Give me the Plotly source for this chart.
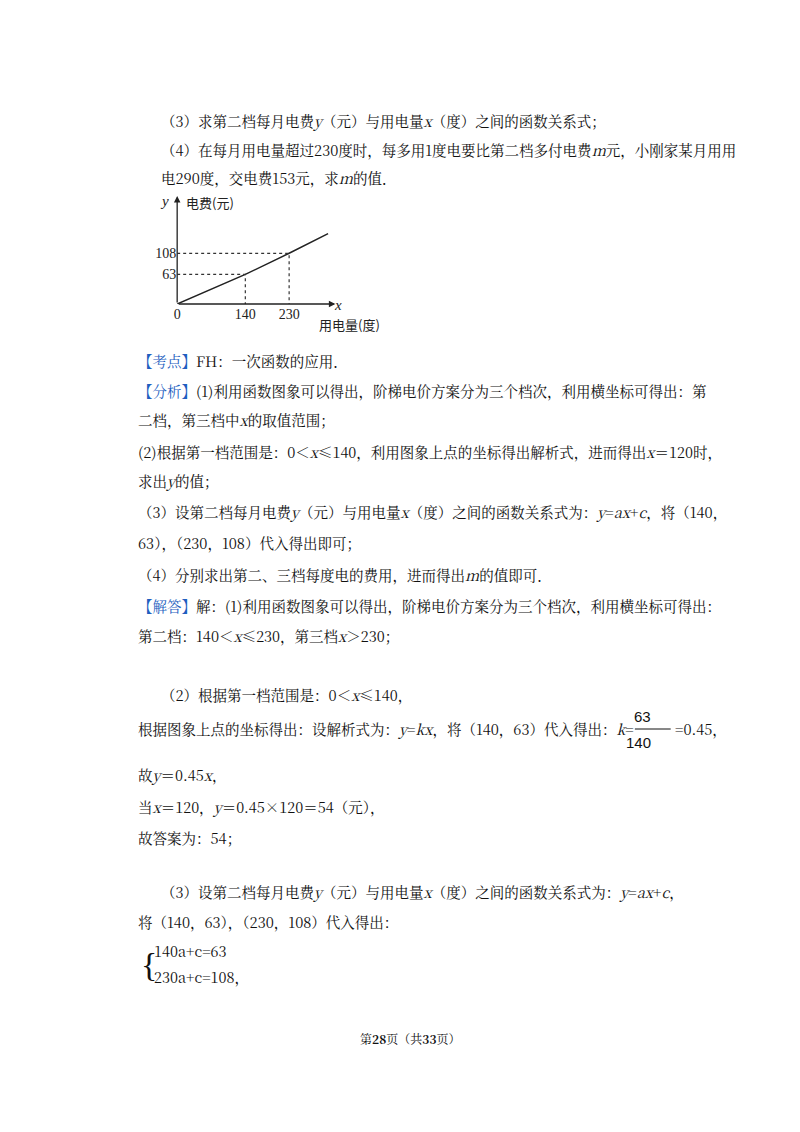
import plotly.graph_objects as go

# chart data
kwh = [0, 140, 230, 310]
fee = [0, 63, 108, 150]
x_ticks = [0, 140, 230]
y_ticks = [63, 108]

W, H = 800, 1132
CN = "Noto Serif CJK SC, Noto Sans CJK SC, Liberation Serif"
FS = 14.5

# text lines: (x px, y px, html)
lines = [
    (148, 112, "（3）求第二档每月电费<i>y</i>（元）与用电量<i>x</i>（度）之间的函数关系式；"),
    (148, 141, "（4）在每月用电量超过230度时，每多用1度电要比第二档多付电费<i>m</i>元，小刚家某月用用"),
    (148, 170, "电290度，交电费153元，求<i>m</i>的值．"),
    (125, 352, "<span style='color:#1f5fbf'>【考点】</span>FH：一次函数的应用．"),
    (125, 383, "<span style='color:#1f5fbf'>【分析】</span>(1)利用函数图象可以得出，阶梯电价方案分为三个档次，利用横坐标可得出：第"),
    (125, 412, "二档，第三档中<i>x</i>的取值范围；"),
    (125, 443, "(2)根据第一档范围是：0＜<i>x</i>≤140，利用图象上点的坐标得出解析式，进而得出<i>x</i>＝120时，"),
    (125, 472, "求出<i>y</i>的值；"),
    (125, 503, "（3）设第二档每月电费<i>y</i>（元）与用电量<i>x</i>（度）之间的函数关系式为：<i>y</i>=<i>ax</i>+<i>c</i>，将（140，"),
    (125, 534, "63），（230，108）代入得出即可；"),
    (125, 566, "（4）分别求出第二、三档每度电的费用，进而得出<i>m</i>的值即可．"),
    (125, 597, "<span style='color:#1f5fbf'>【解答】</span>解：(1)利用函数图象可以得出，阶梯电价方案分为三个档次，利用横坐标可得出："),
    (125, 628, "第二档：140＜<i>x</i>≤230，第三档<i>x</i>＞230；"),
    (148, 686, "（2）根据第一档范围是：0＜<i>x</i>≤140，"),
    (125, 720, "根据图象上点的坐标得出：设解析式为：<i>y</i>=<i>kx</i>，将（140，63）代入得出：<i>k</i>="),
    (125, 766, "故<i>y</i>＝0.45<i>x</i>，"),
    (125, 798, "当<i>x</i>＝120，<i>y</i>＝0.45×120＝54（元），"),
    (125, 829, "故答案为：54；"),
    (148, 883, "（3）设第二档每月电费<i>y</i>（元）与用电量<i>x</i>（度）之间的函数关系式为：<i>y</i>=<i>ax</i>+<i>c</i>，"),
    (125, 913, "将（140，63），（230，108）代入得出："),
    (141, 942, "140a+c=63"),
    (141, 968, "230a+c=108，"),
]

fig = go.Figure()
# main polyline
fig.add_trace(go.Scatter(x=kwh, y=fee, mode="lines", line=dict(color="#222", width=1.5),
                         hoverinfo="skip"))
# dashed guides
for xv, yv in zip(kwh[1:3], fee[1:3]):
    fig.add_trace(go.Scatter(x=[0, xv, xv], y=[yv, yv, 0], mode="lines",
                             line=dict(color="#333", width=1.2, dash="dot"), hoverinfo="skip"))

fig.update_xaxes(domain=[166 / W, 325 / W], range=[0, 325], tickvals=x_ticks,
                 showgrid=False, zeroline=False, showline=False,
                 tickfont=dict(family="Liberation Serif", size=14, color="#222"))
fig.update_yaxes(domain=[1 - 296 / H, 1 - 188 / H], range=[0, 230], tickvals=y_ticks,
                 showgrid=False, zeroline=False, showline=False,
                 tickfont=dict(family="Liberation Serif", size=14, color="#222"))

ann = []
# axes with arrows
ann.append(dict(x=325, y=0, ax=0, ay=0, xref="x", yref="y", axref="x", ayref="y",
                showarrow=True, arrowhead=2, arrowsize=1, arrowwidth=1.3, arrowcolor="#222", text=""))
ann.append(dict(x=0, y=230, ax=0, ay=0, xref="x", yref="y", axref="x", ayref="y",
                showarrow=True, arrowhead=2, arrowsize=1, arrowwidth=1.3, arrowcolor="#222", text=""))


def page_text(px, py, t, anchor, fam, size):
    return dict(x=px / W, y=1 - py / H, xref="paper", yref="paper", text=t, showarrow=False,
                xanchor=anchor, yanchor="middle", font=dict(family=fam, size=size, color="#222"))


ann.append(page_text(160, 193, "<i>y</i>", "right", "Liberation Serif", 15))
ann.append(page_text(173, 194, "电费(元)", "left", "Noto Sans CJK SC", 13))
ann.append(page_text(322, 297, "<i>x</i>", "left", "Liberation Serif", 15))
ann.append(page_text(307, 316, "用电量(度)", "left", "Noto Sans CJK SC", 13))

for x0, y0, t in lines:
    ann.append(dict(x=x0 / W, y=1 - y0 / H, xref="paper", yref="paper", text=t, showarrow=False,
                    xanchor="left", yanchor="middle", font=dict(family=CN, size=FS, color="#111")))

# fraction 63/140 = 0.45
ann.append(dict(x=644 / W, y=1 - 708 / H, xref="paper", yref="paper", text="63", showarrow=False,
                font=dict(family="Liberation Sans", size=15, color="#111")))
ann.append(dict(x=644 / W, y=1 - 734 / H, xref="paper", yref="paper", text="140", showarrow=False,
                font=dict(family="Liberation Sans", size=15, color="#111")))
ann.append(dict(x=664 / W, y=1 - 720 / H, xref="paper", yref="paper", text="=0.45，", showarrow=False,
                xanchor="left", font=dict(family=CN, size=FS, color="#111")))
# brace
ann.append(dict(x=128 / W, y=1 - 956 / H, xref="paper", yref="paper", text="{", showarrow=False,
                xanchor="left", yanchor="middle", font=dict(family="Liberation Serif", size=34, color="#111")))
# footer
ann.append(dict(x=0.5, y=1 - 1041 / H, xref="paper", yref="paper",
                text="第<b>28</b>页（共<b>33</b>页）", showarrow=False,
                font=dict(family=CN, size=12, color="#111")))

shapes = [
    dict(type="line", xref="paper", yref="paper", x0=626 / W, x1=662 / W,
         y0=1 - 721 / H, y1=1 - 721 / H, line=dict(color="#111", width=1)),
]

fig.update_layout(width=W, height=H, margin=dict(l=0, r=0, t=0, b=0),
                  paper_bgcolor="white", plot_bgcolor="white", showlegend=False,
                  annotations=ann, shapes=shapes)

fig.write_html("out.html")
